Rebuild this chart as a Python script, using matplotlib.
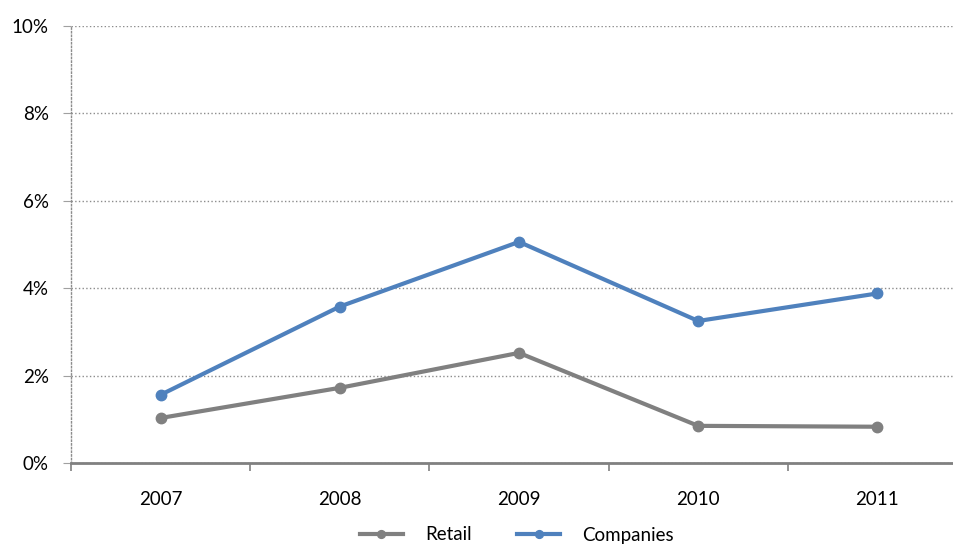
import matplotlib.pyplot as plt
from matplotlib.ticker import FixedLocator, FuncFormatter

years = ['2007', '2008', '2009', '2010', '2011']
retail = [1.03, 1.72, 2.52, 0.85, 0.83]
companies = [1.56, 3.58, 5.06, 3.25, 3.88]

plt.rcParams['font.family'] = ['Lato', 'DejaVu Sans']

fig = plt.figure(figsize=(9.54, 5.45), dpi=100)
# plot area runs slightly past the right edge, as in the original
ax = fig.add_axes([71 / 954, 82 / 545, 896 / 954, 437 / 545])

x = list(range(len(years)))
gray = '#808080'
blue = '#4F81BD'
fs = 13.5

ax.plot(x, retail, '-o', color=gray, linewidth=3, markersize=7.5, label='Retail', zorder=3)
ax.plot(x, companies, '-o', color=blue, linewidth=3, markersize=7.5, label='Companies', zorder=3)

ax.set_xlim(-0.5, len(years) - 0.5)
ax.set_ylim(0, 10)

# y axis
ax.set_yticks([0, 2, 4, 6, 8, 10])
ax.yaxis.set_major_formatter(FuncFormatter(lambda v, p: f'{v:.0f}%'))
ax.tick_params(axis='y', length=6, width=0.8, color='#A0A0A0', pad=10, labelsize=fs)
ax.grid(axis='y', linestyle=':', color='#8C8C8C', linewidth=1)

# x axis: labels at centres, ticks between categories
ax.set_xticks(x)
ax.set_xticklabels(years)
ax.xaxis.set_minor_locator(FixedLocator([i - 0.5 for i in range(len(years) + 1)]))
ax.tick_params(axis='x', which='major', length=0, pad=20, labelsize=fs)
ax.tick_params(axis='x', which='minor', length=6, width=1.2, color=gray)

for side in ['top', 'right']:
    ax.spines[side].set_visible(False)
ax.spines['bottom'].set_color(gray)
ax.spines['bottom'].set_linewidth(2)
ax.spines['bottom'].set_zorder(4)
ax.spines['left'].set_color('#8C8C8C')
ax.spines['left'].set_linestyle(':')
ax.spines['left'].set_linewidth(1)

fig.legend(loc='center', bbox_to_anchor=(517 / 954, 1 - 535 / 545), ncol=2,
           frameon=False, fontsize=fs, handlelength=2.3, handletextpad=1.2,
           columnspacing=2.4, markerscale=0.75)

fig.savefig('out.png', dpi=100)
